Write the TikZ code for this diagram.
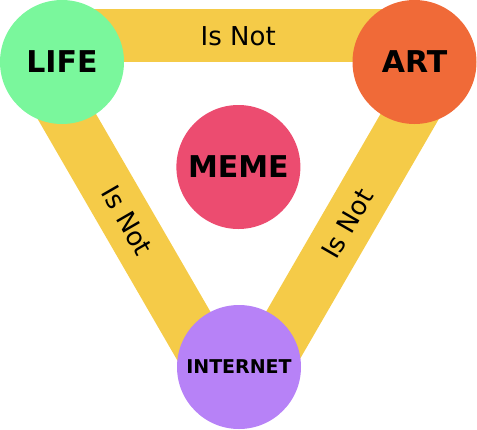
\documentclass[tikz,border=0pt]{standalone}
\usepackage{fontspec}
\setmainfont{DejaVu Sans}
\usepackage{tikz}
\usetikzlibrary{positioning}

\definecolor{lifegreen}{HTML}{7AF79C}
\definecolor{artorange}{HTML}{F06A38}
\definecolor{memepink}{HTML}{EC4C70}
\definecolor{netpurple}{HTML}{B782F7}
\definecolor{bandyellow}{HTML}{F5CB48}

\begin{document}
\begin{tikzpicture}[
    x=1pt, y=-1pt,
    band/.style={draw=bandyellow, line width=53pt},
    isnot/.style={font=\fontsize{26}{26}\selectfont, text=black},
    word/.style={circle, minimum size=124pt, inner sep=0pt, font=\bfseries\fontsize{30}{30}\selectfont}
]
    \useasboundingbox (0,0) rectangle (477,429);

    % Ends of the bands
    \coordinate (lifeT) at (62,35);
    \coordinate (artT) at (414.5,35);
    \coordinate (lifeL) at (35.3,62);
    \coordinate (netL) at (211.8,367);
    \coordinate (artR) at (441.2,62);
    \coordinate (netR) at (264.7,367);

    % Bands
    \draw[band] (lifeT) -- (artT) node[midway, isnot, yshift=-1pt] {Is Not};
    \draw[band] (lifeL) -- (netL) node[pos=0.52, sloped, isnot] {Is Not};
    \draw[band] (netR) -- (artR) node[pos=0.47, sloped, isnot] {Is Not};

    % Circles
    \node[word, fill=lifegreen] (life) at (62,62) {LIFE};
    \node[word, fill=artorange] (art) at (414.5,62) {ART};
    \node[word, fill=memepink] (meme) at (238.4,167) {MEME};
    \node[word, fill=netpurple, font=\bfseries\fontsize{19}{19}\selectfont] (internet) at (239,367) {INTERNET};

\end{tikzpicture}
\end{document}
